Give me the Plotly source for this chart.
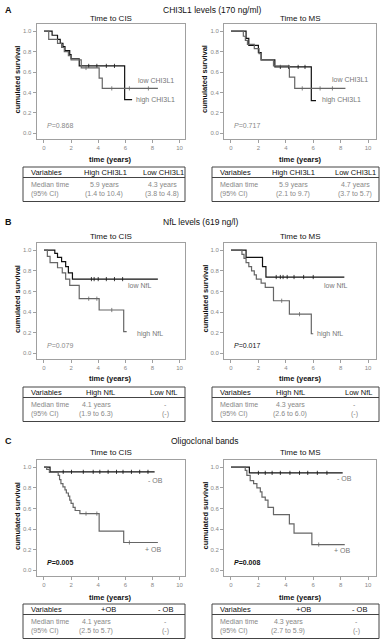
import plotly.graph_objects as go

W, H = 384, 640
FONT = "Liberation Sans, Arial, sans-serif"

# ---------------- data ----------------
panel_letters = ["A", "B", "C"]
panel_titles = ["CHI3L1 levels (170 ng/ml)", "NfL levels (619 ng/l)", "Oligoclonal bands"]
sub_titles = ["Time to CIS", "Time to MS"]
x_ticks = [0, 2, 4, 6, 8, 10]
y_ticks = [0.0, 0.2, 0.4, 0.6, 0.8, 1.0]

# Panel A - CHI3L1, time to CIS
a_cis_high_t = [0, 0.6, 1.0, 1.2, 1.4, 1.55, 1.9, 2.0, 2.6, 5.95, 6.5]
a_cis_high_s = [1.0, 0.96, 0.92, 0.88, 0.85, 0.81, 0.77, 0.73, 0.66, 0.33, 0.33]
a_cis_high_c = [3.3, 3.9, 4.6, 5.2]
a_cis_low_t = [0, 0.35, 1.0, 1.3, 1.5, 1.8, 2.0, 2.75, 4.07, 4.3, 8.4]
a_cis_low_s = [1.0, 0.92, 0.88, 0.84, 0.80, 0.76, 0.72, 0.64, 0.54, 0.44, 0.44]
a_cis_low_c = [3.1, 5.0, 6.3, 7.7]
# Panel A - CHI3L1, time to MS
a_ms_high_t = [0, 1.1, 1.3, 2.0, 2.2, 3.2, 5.86, 6.2]
a_ms_high_s = [1.0, 0.93, 0.86, 0.79, 0.72, 0.65, 0.32, 0.32]
a_ms_high_c = [3.6, 4.2, 4.9, 5.4]
a_ms_low_t = [0, 0.9, 1.05, 1.2, 1.7, 2.05, 2.2, 3.1, 4.26, 4.65, 8.35]
a_ms_low_s = [1.0, 0.95, 0.91, 0.87, 0.83, 0.78, 0.72, 0.66, 0.55, 0.44, 0.44]
a_ms_low_c = [5.2, 6.5, 7.4]

# Panel B - NfL, time to CIS
b_cis_low_t = [0, 0.8, 1.0, 1.3, 1.6, 1.8, 2.1, 8.4]
b_cis_low_s = [1.0, 0.97, 0.93, 0.89, 0.84, 0.78, 0.72, 0.72]
b_cis_low_c = [3.5, 3.7, 4.0, 4.6, 5.2, 5.8]
b_cis_high_t = [0, 0.25, 0.45, 1.0, 1.35, 1.6, 1.9, 2.6, 4.07, 5.88, 6.1]
b_cis_high_s = [1.0, 0.94, 0.88, 0.83, 0.78, 0.72, 0.66, 0.53, 0.42, 0.21, 0.21]
b_cis_high_c = [3.3, 3.9, 5.0]
# Panel B - NfL, time to MS
b_ms_low_t = [0, 1.1, 2.3, 2.55, 8.27]
b_ms_low_s = [1.0, 0.93, 0.84, 0.74, 0.74]
b_ms_low_c = [3.3, 3.6, 3.8, 4.1, 4.6, 5.3, 6.0]
b_ms_high_t = [0, 0.8, 0.95, 1.1, 1.3, 1.5, 1.7, 1.85, 2.2, 2.5, 3.1, 4.26, 5.86, 6.0]
b_ms_high_s = [1.0, 0.96, 0.92, 0.88, 0.84, 0.80, 0.76, 0.72, 0.68, 0.64, 0.51, 0.38, 0.19, 0.19]
b_ms_high_c = [3.7, 5.0]

# Panel C - OB, time to CIS
c_cis_neg_t = [0, 0.45, 8.16]
c_cis_neg_s = [1.0, 0.955, 0.955]
c_cis_neg_c = [1.42, 2.03, 2.9, 3.63, 4.12, 4.73, 5.35, 5.83, 6.45, 7.06, 7.67]
c_cis_pos_t = [0, 0.2, 0.4, 1.05, 1.15, 1.25, 1.4, 1.55, 1.65, 1.8, 1.9, 2.0, 2.15, 2.3, 2.65, 4.07, 5.88, 8.4]
c_cis_pos_s = [1.0, 0.98, 0.95, 0.92, 0.88, 0.84, 0.81, 0.78, 0.75, 0.72, 0.68, 0.65, 0.61, 0.58, 0.55, 0.38, 0.27, 0.27]
c_cis_pos_c = [3.1, 3.9, 6.3]
# Panel C - OB, time to MS
c_ms_neg_t = [0, 1.34, 8.15]
c_ms_neg_s = [1.0, 0.945, 0.945]
c_ms_neg_c = [2.0, 2.5, 3.0, 3.6, 4.3, 5.0, 5.6, 6.3, 7.0]
c_ms_pos_t = [0, 1.04, 1.16, 1.4, 1.65, 1.89, 2.14, 2.26, 2.5, 2.7, 3.1, 4.26, 4.6, 5.9, 8.3]
c_ms_pos_s = [1.0, 0.97, 0.92, 0.87, 0.84, 0.80, 0.76, 0.71, 0.68, 0.61, 0.54, 0.45, 0.36, 0.25, 0.25]
c_ms_pos_c = [6.4]

p_values = ["0.868", "0.717", "0.079", "0.017", "0.005", "0.008"]

curve_labels = [["high CHI3L1", "low CHI3L1"], ["high CHI3L1", "low CHI3L1"],
                ["low NfL", "high NfL"], ["low NfL", "high NfL"],
                ["- OB", "+ OB"], ["- OB", "+ OB"]]

table_head = [["Variables", "High CHI3L1", "Low CHI3L1"], ["Variables", "High CHI3L1", "Low CHI3L1"],
              ["Variables", "High NfL", "Low NfL"], ["Variables", "High NfL", "Low NfL"],
              ["Variables", "+OB", "- OB"], ["Variables", "+OB", "- OB"]]
table_median = [["Median time", "5.9 years", "4.3 years"], ["Median time", "5.9 years", "4.7 years"],
                ["Median time", "4.1 years", "-"], ["Median time", "4.3 years", "-"],
                ["Median time", "4.1 years", "-"], ["Median time", "4.3 years", "-"]]
table_ci = [["(95% CI)", "(1.4 to 10.4)", "(3.8 to 4.8)"], ["(95% CI)", "(2.1 to 9.7)", "(3.7 to 5.7)"],
            ["(95% CI)", "(1.9 to 6.3)", "(-)"], ["(95% CI)", "(2.6 to 6.0)", "(-)"],
            ["(95% CI)", "(2.5 to 5.7)", "(-)"], ["(95% CI)", "(2.7 to 5.9)", "(-)"]]

curves = [
    [(a_cis_high_t, a_cis_high_s, a_cis_high_c), (a_cis_low_t, a_cis_low_s, a_cis_low_c)],
    [(a_ms_high_t, a_ms_high_s, a_ms_high_c), (a_ms_low_t, a_ms_low_s, a_ms_low_c)],
    [(b_cis_low_t, b_cis_low_s, b_cis_low_c), (b_cis_high_t, b_cis_high_s, b_cis_high_c)],
    [(b_ms_low_t, b_ms_low_s, b_ms_low_c), (b_ms_high_t, b_ms_high_s, b_ms_high_c)],
    [(c_cis_neg_t, c_cis_neg_s, c_cis_neg_c), (c_cis_pos_t, c_cis_pos_s, c_cis_pos_c)],
    [(c_ms_neg_t, c_ms_neg_s, c_ms_neg_c), (c_ms_pos_t, c_ms_pos_s, c_ms_pos_c)],
]

# ---------------- layout / style ----------------
curve_colors = ["#111111", "#666666"]
# label anchor positions (data coords, left edge) per panel, per curve
label_pos = [[(6.65, 0.33), (6.8, 0.52)], [(6.5, 0.33), (7.25, 0.53)],
             [(6.08, 0.66), (6.7, 0.185)], [(6.64, 0.66), (6.13, 0.185)],
             [(7.55, 0.87), (7.3, 0.2)], [(7.6, 0.89), (7.35, 0.19)]]
p_style = [("#888888", False), ("#888888", False), ("#888888", False),
           ("#111111", False), ("#111111", True), ("#111111", True)]

col_x = [(23, 185), (212, 379)]
frame_x = [(36.5, 185), (224, 376)]
x_ranges = [(-0.55, 10.4), (-0.51, 10.58)]
frame_y = [(24, 139), (243, 359), (460, 576)]
y_range = (-0.055, 1.07)
title_y = [10, 222, 441]
title_cx = [212, 200, 205]
sub_y = [19, 236, 452]
time_y = [159, 378, 597]
table_top = [167, 387, 604]
# table text x: (variables left, col2 header, col3 header, col2 values, col3 values)
table_tx = [(29, 105, 163, 104, 162), (218, 293, 355, 293, 355),
            (29, 100, 164, 96, 165), (218, 290, 359, 290, 354),
            (29, 108, 165, 96, 165), (218, 303, 359, 288, 356)]


def PX(px):
    return px / W


def PY(py):
    return 1 - py / H


def step_y(t, s, x):
    y = s[0]
    for ti, si in zip(t, s):
        if ti <= x:
            y = si
    return y


fig = go.Figure()
annotations = []
shapes = []
layout_axes = {}

for i in range(6):
    r, c = divmod(i, 2)
    suf = "" if i == 0 else str(i + 1)
    xa, ya = "x" + suf, "y" + suf
    fx0, fx1 = frame_x[c]
    fy0, fy1 = frame_y[r]
    layout_axes["xaxis" + suf] = dict(
        domain=[PX(fx0), PX(fx1)], anchor=ya, range=list(x_ranges[c]),
        showline=True, mirror=True, linecolor="#a0a0a0", linewidth=1,
        ticks="outside", ticklen=3, tickcolor="#a0a0a0", tickwidth=1,
        tickvals=x_ticks, tickfont=dict(size=6, color="#888888", family=FONT),
        showgrid=False, zeroline=False, fixedrange=True)
    layout_axes["yaxis" + suf] = dict(
        domain=[PY(fy1), PY(fy0)], anchor=xa, range=list(y_range),
        showline=True, mirror=True, linecolor="#a0a0a0", linewidth=1,
        ticks="outside", ticklen=3, tickcolor="#a0a0a0", tickwidth=1,
        tickvals=y_ticks, ticktext=["%.1f" % v for v in y_ticks],
        tickfont=dict(size=6, color="#888888", family=FONT),
        showgrid=False, zeroline=False, fixedrange=True)

    for k, (t, s, cens) in enumerate(curves[i]):
        col = curve_colors[k]
        fig.add_trace(go.Scatter(x=t, y=s, mode="lines", xaxis=xa, yaxis=ya,
                                 line=dict(shape="hv", color=col, width=1.2),
                                 hoverinfo="skip", showlegend=False))
        fig.add_trace(go.Scatter(x=cens, y=[step_y(t, s, v) for v in cens], mode="markers",
                                 xaxis=xa, yaxis=ya,
                                 marker=dict(symbol="line-ns", size=3, line=dict(width=0.8, color=col)),
                                 hoverinfo="skip", showlegend=False))
        lx, ly = label_pos[i][k]
        annotations.append(dict(x=lx, y=ly, xref=xa, yref=ya, text=curve_labels[i][k],
                                showarrow=False, xanchor="left", yanchor="middle",
                                font=dict(size=7, color="#777777", family=FONT)))

    pcol, pbold = p_style[i]
    ptxt = "<i>P</i>=" + p_values[i]
    if pbold:
        ptxt = "<b>" + ptxt + "</b>"
    annotations.append(dict(x=0.05, y=0.08, xref=xa, yref=ya, text=ptxt, showarrow=False,
                            xanchor="left", yanchor="middle",
                            font=dict(size=7, color=pcol, family=FONT)))

    # subtitle, axis titles
    cx = (fx0 + fx1) / 2
    annotations.append(dict(x=PX(cx), y=PY(sub_y[r]), xref="paper", yref="paper",
                            text=sub_titles[c], showarrow=False, xanchor="center", yanchor="middle",
                            font=dict(size=8, color="#111111", family=FONT)))
    annotations.append(dict(x=PX(cx), y=PY(time_y[r]), xref="paper", yref="paper",
                            text="<b>time (years)</b>", showarrow=False, xanchor="center",
                            yanchor="middle", font=dict(size=7.5, color="#111111", family=FONT)))
    annotations.append(dict(x=PX(fx0 - 19.5), y=PY((fy0 + fy1) / 2 - 2), xref="paper", yref="paper",
                            text="<b>cumulated survival</b>", showarrow=False, textangle=-90,
                            xanchor="center", yanchor="middle",
                            font=dict(size=7.5, color="#111111", family=FONT)))

    # table
    tx0, tx1 = col_x[c]
    T = table_top[r]
    shapes.append(dict(type="rect", xref="paper", yref="paper", x0=PX(tx0), x1=PX(tx1),
                       y0=PY(T + 34.5), y1=PY(T), line=dict(color="#444444", width=1)))
    shapes.append(dict(type="line", xref="paper", yref="paper", x0=PX(tx0), x1=PX(tx1),
                       y0=PY(T + 10.5), y1=PY(T + 10.5), line=dict(color="#444444", width=1)))
    vx, h2, h3, v2, v3 = table_tx[i]
    rows = [(table_head[i], T + 5.5, "#111111", 7.5, (h2, h3)),
            (table_median[i], T + 17.5, "#888888", 7, (v2, v3)),
            (table_ci[i], T + 26.5, "#888888", 7, (v2, v3))]
    for cells, yy, colr, fs, (x2, x3) in rows:
        annotations.append(dict(x=PX(vx), y=PY(yy), xref="paper", yref="paper", text=cells[0],
                                showarrow=False, xanchor="left", yanchor="middle",
                                font=dict(size=fs, color=colr, family=FONT)))
        annotations.append(dict(x=PX(x2), y=PY(yy), xref="paper", yref="paper", text=cells[1],
                                showarrow=False, xanchor="center", yanchor="middle",
                                font=dict(size=fs, color=colr, family=FONT)))
        annotations.append(dict(x=PX(x3), y=PY(yy), xref="paper", yref="paper", text=cells[2],
                                showarrow=False, xanchor="center", yanchor="middle",
                                font=dict(size=fs, color=colr, family=FONT)))

for r in range(3):
    annotations.append(dict(x=PX(3), y=PY(title_y[r]), xref="paper", yref="paper",
                            text="<b>" + panel_letters[r] + "</b>", showarrow=False,
                            xanchor="left", yanchor="middle",
                            font=dict(size=9, color="#111111", family=FONT)))
    annotations.append(dict(x=PX(title_cx[r]), y=PY(title_y[r]), xref="paper", yref="paper",
                            text=panel_titles[r], showarrow=False, xanchor="center",
                            yanchor="middle", font=dict(size=8.5, color="#111111", family=FONT)))

fig.update_layout(width=W, height=H, autosize=False,
                  margin=dict(l=0, r=0, t=0, b=0),
                  paper_bgcolor="white", plot_bgcolor="white",
                  annotations=annotations, shapes=shapes, showlegend=False,
                  **layout_axes)

fig.write_html("out.html", config={"displayModeBar": False},
               post_script="document.body.style.margin='0';document.body.style.overflow='hidden';")
